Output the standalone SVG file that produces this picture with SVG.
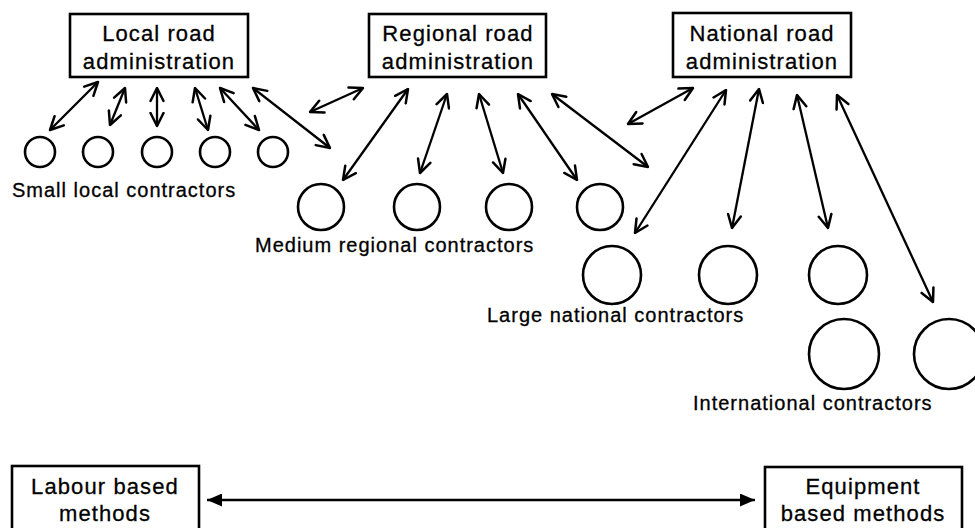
<svg xmlns="http://www.w3.org/2000/svg" width="975" height="528" viewBox="0 0 975 528">
<style>
  .box{fill:#fff;stroke:#000;stroke-width:2.6}
  .c{fill:none;stroke:#000;stroke-width:2.6}
  .bt{font-family:"Liberation Sans",Arial,sans-serif;font-size:22px;letter-spacing:1.1px;text-anchor:middle;fill:#000;stroke:#000;stroke-width:0.3}
  .lb{font-family:"Liberation Sans",Arial,sans-serif;font-size:20px;letter-spacing:1px;fill:#000;stroke:#000;stroke-width:0.3}
  .a{stroke:#000;stroke-width:2.3;fill:none;marker-start:url(#v);marker-end:url(#v)}
  .af{stroke:#000;stroke-width:2.4;fill:none;marker-start:url(#f);marker-end:url(#f)}
</style>
<defs>
  <marker id="v" viewBox="0 0 16 16" refX="14.5" refY="8" markerWidth="16" markerHeight="16" markerUnits="userSpaceOnUse" orient="auto-start-reverse">
    <path d="M1.5,1.5 L14.5,8 L1.5,14.5" fill="none" stroke="#000" stroke-width="2.5" stroke-linejoin="round" stroke-linecap="round"/>
  </marker>
  <marker id="f" viewBox="0 0 15 13" refX="15" refY="6.5" markerWidth="15" markerHeight="13" markerUnits="userSpaceOnUse" orient="auto-start-reverse">
    <path d="M0,0 L15,6.5 L0,13 z" fill="#000"/>
  </marker>
</defs>
<rect width="975" height="528" fill="#fff"/>

<g id="local-admin">
  <rect class="box" x="70" y="14" width="178" height="63"/>
  <text class="bt" x="159" y="41">Local road</text>
  <text class="bt" x="159" y="69">administration</text>
</g>
<g id="regional-admin">
  <rect class="box" x="369" y="14" width="177" height="63"/>
  <text class="bt" x="458" y="41">Regional road</text>
  <text class="bt" x="458" y="69">administration</text>
</g>
<g id="national-admin">
  <rect class="box" x="673" y="13" width="178" height="64"/>
  <text class="bt" x="762" y="41">National road</text>
  <text class="bt" x="762" y="69">administration</text>
</g>

<g id="small-1"><circle class="c" cx="40" cy="152" r="15"/></g>
<g id="small-2"><circle class="c" cx="98" cy="152" r="15"/></g>
<g id="small-3"><circle class="c" cx="157" cy="152" r="15"/></g>
<g id="small-4"><circle class="c" cx="215" cy="152" r="15"/></g>
<g id="small-5"><circle class="c" cx="273" cy="152" r="15"/></g>
<g id="small-label"><text class="lb" x="12" y="197">Small local contractors</text></g>

<g id="medium-1"><circle class="c" cx="321" cy="207" r="23"/></g>
<g id="medium-2"><circle class="c" cx="417" cy="207" r="23"/></g>
<g id="medium-3"><circle class="c" cx="509" cy="207" r="23"/></g>
<g id="medium-4"><circle class="c" cx="600" cy="207" r="23"/></g>
<g id="medium-label"><text class="lb" x="255" y="252">Medium regional contractors</text></g>

<g id="large-1"><circle class="c" cx="612" cy="275" r="29"/></g>
<g id="large-2"><circle class="c" cx="728" cy="275" r="29"/></g>
<g id="large-3"><circle class="c" cx="838" cy="275" r="29"/></g>
<g id="large-label"><text class="lb" x="487" y="322">Large national contractors</text></g>

<g id="intl-1"><circle class="c" cx="844" cy="354" r="35"/></g>
<g id="intl-2"><circle class="c" cx="949" cy="354" r="35"/></g>
<g id="intl-label"><text class="lb" x="693" y="410">International contractors</text></g>

<g id="labour-methods">
  <rect class="box" x="12" y="466" width="187" height="75"/>
  <text class="bt" x="105" y="494">Labour based</text>
  <text class="bt" x="105" y="521">methods</text>
</g>
<g id="equipment-methods">
  <rect class="box" x="765" y="467" width="197" height="75"/>
  <text class="bt" x="863" y="494">Equipment</text>
  <text class="bt" x="863" y="521">based methods</text>
</g>

<g id="connectors">
  <line class="a" x1="98" y1="82" x2="50" y2="130"/>
  <line class="a" x1="125" y1="88" x2="110" y2="125"/>
  <line class="a" x1="157" y1="88" x2="157" y2="126"/>
  <line class="a" x1="195" y1="88" x2="208" y2="130"/>
  <line class="a" x1="220" y1="88" x2="259" y2="130"/>
  <line class="a" x1="253" y1="88" x2="330" y2="148"/>
  <line class="a" x1="363" y1="88" x2="310" y2="112"/>
  <line class="a" x1="408" y1="89" x2="343" y2="180"/>
  <line class="a" x1="447" y1="94" x2="420" y2="173"/>
  <line class="a" x1="479" y1="94" x2="503" y2="173"/>
  <line class="a" x1="518" y1="94" x2="577" y2="180"/>
  <line class="a" x1="552" y1="94" x2="648" y2="167"/>
  <line class="a" x1="693" y1="88" x2="628" y2="124"/>
  <line class="a" x1="726" y1="90" x2="635" y2="233"/>
  <line class="a" x1="759" y1="89" x2="732" y2="228"/>
  <line class="a" x1="797" y1="95" x2="828" y2="228"/>
  <line class="a" x1="837" y1="95" x2="933" y2="302"/>
  <line class="af" x1="207" y1="500" x2="755" y2="500"/>
</g>
</svg>
